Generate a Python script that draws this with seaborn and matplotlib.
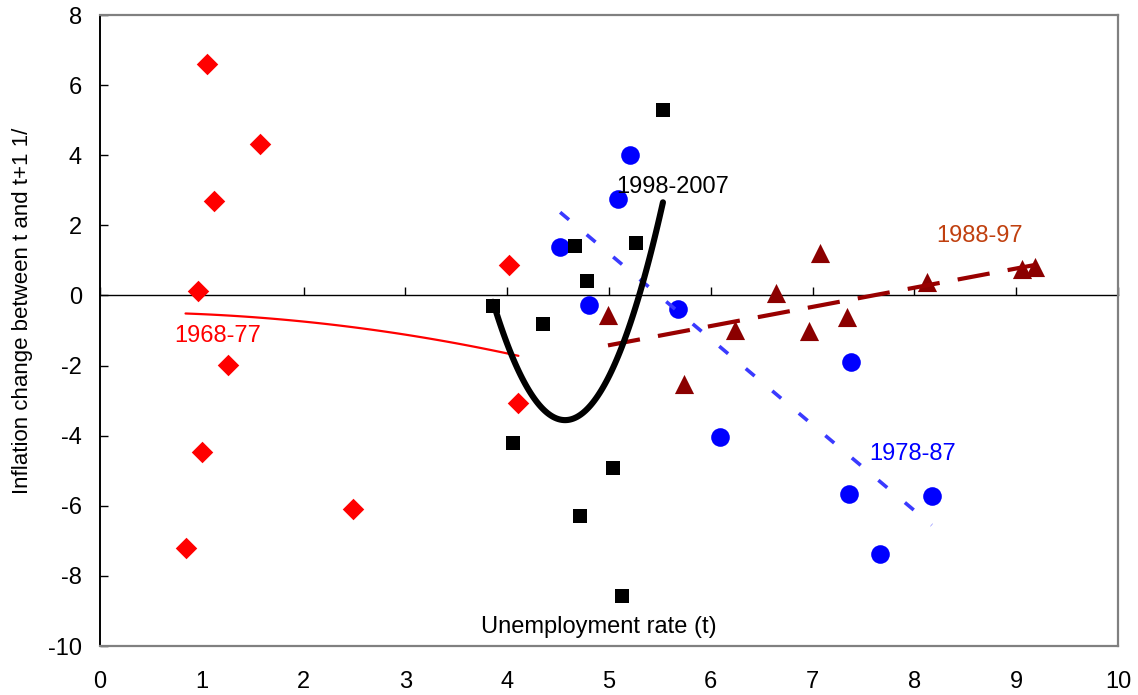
import numpy as np
import pandas as pd
import matplotlib
matplotlib.use("Agg")
import matplotlib.pyplot as plt
import seaborn as sns

# unemployment rate (t) and inflation change t -> t+1, per period
u_6877 = [1.05, 1.57, 1.12, 0.96, 1.26, 1.00, 0.84, 2.49, 4.02, 4.11]
d_6877 = [6.61, 4.33, 2.70, 0.13, -1.98, -4.47, -7.20, -6.09, 0.87, -3.07]

u_7887 = [5.21, 5.09, 4.52, 4.80, 5.68, 7.38, 6.09, 7.36, 8.17, 7.66]
d_7887 = [4.01, 2.74, 1.38, -0.28, -0.40, -1.90, -4.05, -5.66, -5.71, -7.38]

u_8897 = [4.99, 5.74, 6.24, 6.64, 7.07, 6.96, 7.34, 8.12, 9.06, 9.18]
d_8897 = [-0.56, -2.53, -0.99, 0.06, 1.20, -1.02, -0.62, 0.37, 0.75, 0.82]

u_9807 = [5.53, 4.67, 5.27, 4.78, 3.86, 4.35, 4.06, 5.04, 4.72, 5.13]
d_9807 = [5.29, 1.42, 1.50, 0.42, -0.29, -0.82, -4.20, -4.92, -6.29, -8.58]

periods = ["1968-77", "1978-87", "1988-97", "1998-2007"]
xticks = list(range(0, 11))
yticks = list(range(-10, 9, 2))

sns.set_theme(style="white")
plt.rcParams["font.family"] = ["Liberation Sans", "DejaVu Sans"]
plt.rcParams["axes.unicode_minus"] = False

fig = plt.figure(figsize=(11.38, 6.95), dpi=100)
ax = fig.add_axes([0.0879, 0.0705, 0.8945, 0.9079])

series = [
    # x, y, marker, size, marker colour, fit order, line colour, line kwargs
    (u_6877, d_6877, "D", 120, "#ff0000", 2, "#ff0000", dict(lw=1.6)),
    (u_7887, d_7887, "o", 180, "#0000ff", 1, "#3a3aff", dict(lw=2.6, dashes=(3.2, 6.4))),
    (u_8897, d_8897, "^", 190, "#8b0000", 1, "#990000", dict(lw=3.0, dashes=(7.8, 4.4))),
    (u_9807, d_9807, "s", 105, "#000000", 2, "#000000", dict(lw=4.4)),
]

for x, y, mk, sz, col, order, lcol, lkw in series:
    sns.scatterplot(x=x, y=y, marker=mk, s=sz, color=col, linewidth=0, ax=ax, zorder=3)
    sns.regplot(x=x, y=y, order=order, ci=None, scatter=False, truncate=True,
                color=lcol, line_kws=dict(zorder=4, **lkw), ax=ax)

ax.set_xlim(0, 10)
ax.set_ylim(-10, 8)
ax.set_xticks(xticks)
ax.set_yticks(yticks)
ax.tick_params(axis="x", length=0, labelsize=17, pad=18, colors="black")
ax.tick_params(axis="y", direction="in", length=6, width=1, labelsize=17, pad=13,
               colors="black", left=True)

for side in ["top", "right", "bottom"]:
    ax.spines[side].set_color("#808080")
    ax.spines[side].set_linewidth(1.6)
ax.spines["left"].set_color("black")
ax.spines["left"].set_linewidth(1.4)

# zero line with tick marks
zero_ax = ax.secondary_xaxis(0, transform=ax.transData)
zero_ax.set_xticks(xticks)
zero_ax.tick_params(axis="x", direction="in", length=6, width=1, labelbottom=False,
                    color="black", bottom=True)
zero_ax.spines["bottom"].set_color("black")
zero_ax.spines["bottom"].set_linewidth(1.0)

ax.set_ylabel("Inflation change between t and t+1 1/", fontsize=16, color="black")
ax.yaxis.set_label_coords(-0.066, 0.531)
ax.set_xlabel("Unemployment rate (t)", fontsize=17, color="black")
ax.xaxis.set_label_coords(0.49, 0.048)

ax.text(1.155, -1.17, periods[0], color="#ff0000", fontsize=17, ha="center", va="center")
ax.text(7.98, -4.51, periods[1], color="#0000ff", fontsize=17, ha="center", va="center")
ax.text(8.64, 1.71, periods[2], color="#c0400f", fontsize=17, ha="center", va="center")
ax.text(5.63, 3.09, periods[3], color="black", fontsize=17, ha="center", va="center")

fig.savefig("out.png", dpi=100)
